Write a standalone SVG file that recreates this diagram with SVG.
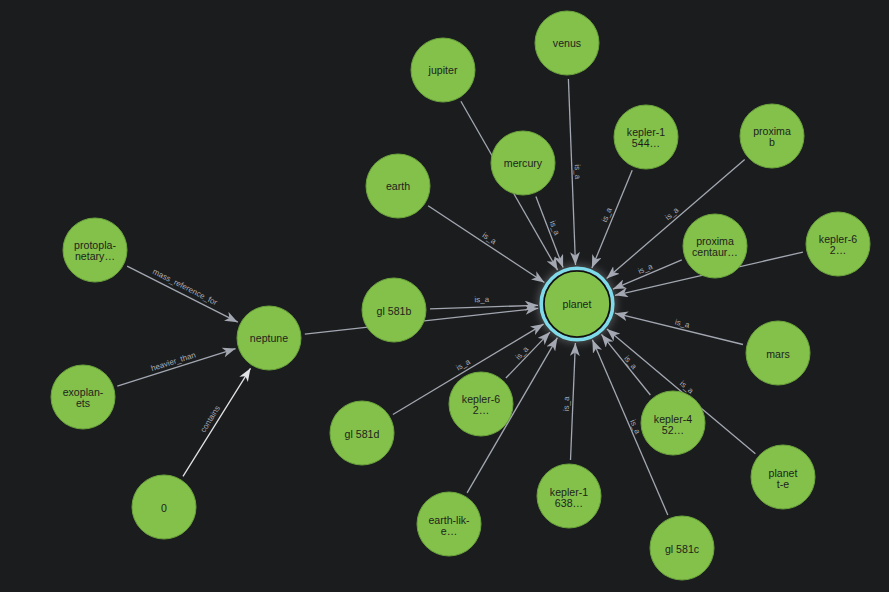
<svg xmlns="http://www.w3.org/2000/svg" width="889" height="592" viewBox="0 0 889 592">
<style>
.edge{stroke:#a3a7b1;stroke-width:1.3;fill:none;marker-end:url(#arr)}
.edge.w{stroke:#e2e3e6;marker-end:url(#arrw)}
.el{font-family:"Liberation Sans",Arial,sans-serif;font-size:8px;fill:#a9acb4;text-anchor:middle}
.n circle{fill:#83c14a;stroke:#6aa23c;stroke-width:1}
.n text{font-family:"Liberation Sans",Arial,sans-serif;font-size:10.6px;fill:#1e1f1c;text-anchor:middle;dominant-baseline:central}
</style>
<defs>
<marker id="arr" viewBox="0 0 13 10" refX="13" refY="5" markerWidth="13" markerHeight="10" markerUnits="userSpaceOnUse" orient="auto">
<path d="M0,0 L13,5 L0,10 L3.5,5 Z" fill="#a3a7b1"/>
</marker>
<marker id="arrw" viewBox="0 0 13 10" refX="13" refY="5" markerWidth="13" markerHeight="10" markerUnits="userSpaceOnUse" orient="auto">
<path d="M0,0 L13,5 L0,10 L3.5,5 Z" fill="#e2e3e6"/>
</marker>
<filter id="glow" x="-50%" y="-50%" width="200%" height="200%">
<feGaussianBlur stdDeviation="4"/>
</filter>
</defs>
<rect width="889" height="592" fill="#1b1c1e"/>
<g id="edges">
<line class="edge" x1="460.9" y1="101.2" x2="557.6" y2="270.1"/>
<line class="edge" x1="568.4" y1="79" x2="575.5" y2="265"/>
<line class="edge" x1="535.9" y1="196.6" x2="563.1" y2="267.6"/>
<line class="edge" x1="428.1" y1="205.8" x2="544.4" y2="282.5"/>
<line class="edge" x1="632.2" y1="170.3" x2="591.9" y2="268"/>
<line class="edge" x1="744.7" y1="159.5" x2="606.6" y2="278.5"/>
<line class="edge" x1="681.8" y1="259.9" x2="613" y2="289.1"/>
<line class="edge" x1="802.9" y1="252.1" x2="615" y2="295.3"/>
<line class="edge" x1="304.8" y1="334.1" x2="538.2" y2="308.3"/>
<line class="edge" x1="430" y1="308.8" x2="538" y2="305.3"/>
<line class="edge" x1="392.9" y1="414.5" x2="543.6" y2="324.1"/>
<line class="edge" x1="505.9" y1="378" x2="550" y2="332.1"/>
<line class="edge" x1="467.1" y1="492.9" x2="557.4" y2="337.7"/>
<line class="edge" x1="570.5" y1="460" x2="575.4" y2="343"/>
<line class="edge" x1="667.8" y1="514.9" x2="592.4" y2="339.8"/>
<line class="edge" x1="650.4" y1="395" x2="601.5" y2="334.4"/>
<line class="edge" x1="755.4" y1="453.8" x2="606.9" y2="329.1"/>
<line class="edge" x1="743" y1="344.5" x2="614.9" y2="313.2"/>
<line class="edge" x1="127.1" y1="266.2" x2="237.8" y2="322.2"/>
<line class="edge" x1="117.3" y1="386.1" x2="235.6" y2="348.6"/>
<line class="edge w" x1="183" y1="476.4" x2="250.5" y2="368.3"/>
<text class="el" transform="translate(572,172) rotate(87.8)" y="-3">is_a</text>
<text class="el" transform="translate(549.5,230) rotate(69)" y="-3">is_a</text>
<text class="el" transform="translate(486.3,243) rotate(33.4)" y="-3">is_a</text>
<text class="el" transform="translate(612,217) rotate(-67.6)" y="-3">is_a</text>
<text class="el" transform="translate(675.6,218) rotate(-40.7)" y="-3">is_a</text>
<text class="el" transform="translate(647.4,274) rotate(-22.8)" y="-3">is_a</text>
<text class="el" transform="translate(482,305) rotate(-1.9)" y="-3">is_a</text>
<text class="el" transform="translate(466,369.5) rotate(-31)" y="-3">is_a</text>
<text class="el" transform="translate(526,357) rotate(-46.2)" y="-3">is_a</text>
<text class="el" transform="translate(572,404) rotate(-87.6)" y="-3">is_a</text>
<text class="el" transform="translate(630.1,429) rotate(66.7)" y="-3">is_a</text>
<text class="el" transform="translate(626,366) rotate(51.1)" y="-3">is_a</text>
<text class="el" transform="translate(683,391.5) rotate(40)" y="-3">is_a</text>
<text class="el" transform="translate(681,328.9) rotate(13.7)" y="-3">is_a</text>
<text class="el" transform="translate(182.5,292) rotate(26.8)" y="-3">mass_reference_for</text>
<text class="el" transform="translate(175,367) rotate(-17.6)" y="-3">heavier_than</text>
<text class="el" transform="translate(215,422) rotate(-58.1)" y="-3">contains</text>
</g>
<g id="node-planet" class="n">
<circle cx="577" cy="304" r="39" opacity="0.25" filter="url(#glow)" style="fill:#ffffff;stroke:none"/>
<circle cx="577" cy="304" r="35.8" style="fill:none;stroke:#7fdbe9;stroke-width:3.6"/>
<circle cx="577" cy="304" r="33" style="stroke:#111;stroke-width:1.6"/>
<text x="577" y="304">planet</text>
</g>
<g id="node-jupiter" class="n"><circle cx="443" cy="70" r="32"/><text x="443" y="70">jupiter</text></g>
<g id="node-venus" class="n"><circle cx="567" cy="43" r="32"/><text x="567" y="43">venus</text></g>
<g id="node-mercury" class="n"><circle cx="523" cy="163" r="32"/><text x="523" y="163">mercury</text></g>
<g id="node-earth" class="n"><circle cx="398" cy="186" r="32"/><text x="398" y="186">earth</text></g>
<g id="node-kepler-1544" class="n"><circle cx="646" cy="137" r="32"/><text x="646" y="131.5">kepler-1</text><text x="646" y="142.5">544…</text></g>
<g id="node-proxima-b" class="n"><circle cx="772" cy="136" r="32"/><text x="772" y="130.5">proxima</text><text x="772" y="141.5">b</text></g>
<g id="node-proxima-centauri" class="n"><circle cx="715" cy="246" r="32"/><text x="715" y="240.5">proxima</text><text x="715" y="251.5">centaur…</text></g>
<g id="node-kepler-62-right" class="n"><circle cx="838" cy="244" r="32"/><text x="838" y="238.5">kepler-6</text><text x="838" y="249.5">2…</text></g>
<g id="node-protoplanetary" class="n"><circle cx="95" cy="250" r="32"/><text x="95" y="244.5">protopla-</text><text x="95" y="255.5">netary…</text></g>
<g id="node-neptune" class="n"><circle cx="269" cy="338" r="32"/><text x="269" y="338">neptune</text></g>
<g id="node-exoplanets" class="n"><circle cx="83" cy="397" r="32"/><text x="83" y="391.5">exoplan-</text><text x="83" y="402.5">ets</text></g>
<g id="node-0" class="n"><circle cx="164" cy="507" r="32"/><text x="164" y="508">0</text></g>
<g id="node-gl581b" class="n"><circle cx="394" cy="310" r="32"/><text x="394" y="311">gl 581b</text></g>
<g id="node-gl581d" class="n"><circle cx="362" cy="433" r="32"/><text x="362" y="434">gl 581d</text></g>
<g id="node-kepler-62-lower" class="n"><circle cx="481" cy="404" r="32"/><text x="481" y="398.5">kepler-6</text><text x="481" y="409.5">2…</text></g>
<g id="node-earth-like" class="n"><circle cx="449" cy="524" r="32"/><text x="449" y="520">earth-lik-</text><text x="449" y="531">e…</text></g>
<g id="node-kepler-1638" class="n"><circle cx="569" cy="496" r="32"/><text x="569" y="491.5">kepler-1</text><text x="569" y="502.5">638…</text></g>
<g id="node-mars" class="n"><circle cx="778" cy="353" r="32"/><text x="778" y="354">mars</text></g>
<g id="node-kepler-452" class="n"><circle cx="673" cy="423" r="32"/><text x="673" y="418.5">kepler-4</text><text x="673" y="429.5">52…</text></g>
<g id="node-planet-te" class="n"><circle cx="783" cy="477" r="32"/><text x="783" y="472.5">planet</text><text x="783" y="483.5">t-e</text></g>
<g id="node-gl581c" class="n"><circle cx="682" cy="548" r="32"/><text x="682" y="549">gl 581c</text></g>
</svg>
